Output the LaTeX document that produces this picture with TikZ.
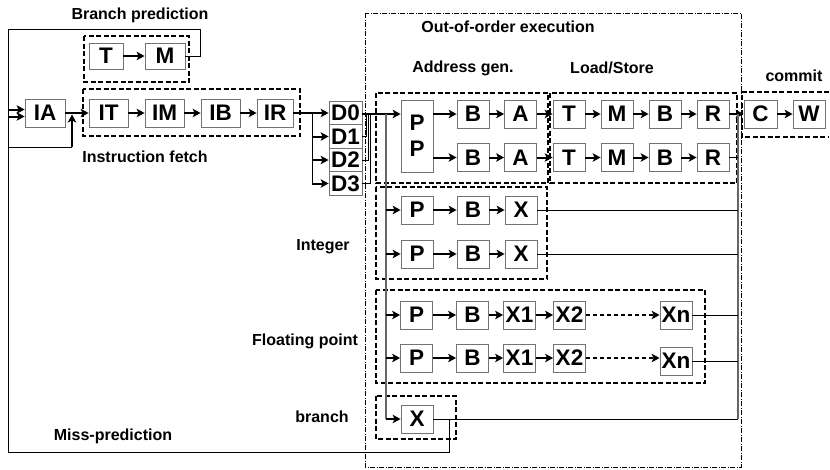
\documentclass[tikz,border=0pt]{standalone}
\usepackage{fontspec}
\setmainfont{Liberation Sans}
\usetikzlibrary{arrows.meta}
\begin{document}
\begin{tikzpicture}[x=1pt,y=-1pt,
  stage/.style={draw=black!55, line width=0.8pt, fill=white, inner sep=0pt,
    minimum height=28pt, minimum width=32pt, font=\fontsize{22.5}{22.5}\selectfont\bfseries},
  grp/.style={draw=black, line width=1.7pt, dash pattern=on 5pt off 2.5pt},
  ooo/.style={draw=black, line width=0.9pt, dash pattern=on 5pt off 1.5pt on 1pt off 1.5pt},
  tip/.style={-{Stealth[length=8pt,width=8.5pt,inset=2pt]}},
  flow/.style={line width=2pt, tip},
  wire/.style={line width=0.8pt},
  bus/.style={draw=black!60, line width=1.2pt},
  lbl/.style={font=\fontsize{16}{16}\selectfont\bfseries, inner sep=0pt}
]
\useasboundingbox (0,0) rectangle (830,469);

% ---- group frames ----
\draw[ooo] (365,13) rectangle (741,467);
\draw[grp] (84,36) rectangle (189,82);
\draw[grp] (83,89) rectangle (300,136);
\draw[grp] (376,93) rectangle (548,183);
\draw[grp] (550,93) rectangle (737,183);
\draw[grp] (829,92) -- (742,92) -- (742,137) -- (829,137);
\draw[grp] (376,187) rectangle (547,279);
\draw[grp] (376,290) rectangle (705,383);
\draw[grp] (376,396) rectangle (456,439);

% ---- labels ----
\node[lbl] (lbp)  at (140,15)  {Branch prediction};
\node[lbl] (lif)  at (145,157) {Instruction fetch};
\node[lbl] (looo) at (508,27)  {Out-of-order execution};
\node[lbl] (lag)  at (463,68)  {Address gen.};
\node[lbl] (lls)  at (612,68)  {Load/Store};
\node[lbl] (lcm)  at (794,76)  {commit};
\node[lbl] (lint) at (323,247) {Integer};
\node[lbl] (lfp)  at (305,341) {Floating point};
\node[lbl] (lbr)  at (322,417) {branch};
\node[lbl] (lmp)  at (113,436) {Miss-prediction};

% ---- branch prediction ----
\node[stage, minimum width=34pt, minimum height=26pt] (bpt) at (106,56) {T};
\node[stage, minimum width=40pt, minimum height=26pt] (bpm) at (165,56) {M};

% ---- instruction fetch ----
\node[stage, minimum width=40pt] (ia) at (45,113) {IA};
\node[stage, minimum width=39pt] (it) at (108.5,113) {IT};
\node[stage, minimum width=39pt] (im) at (164.5,113) {IM};
\node[stage, minimum width=39pt] (ib) at (220.5,113) {IB};
\node[stage, minimum width=36pt] (ir) at (275,113) {IR};

% ---- decode ----
\node[stage, minimum width=33pt, minimum height=23.5pt] (d0) at (345.5,113)   {D0};
\node[stage, minimum width=33pt, minimum height=23.5pt] (d1) at (345.5,136.5) {D1};
\node[stage, minimum width=33pt, minimum height=23.5pt] (d2) at (345.5,160)   {D2};
\node[stage, minimum width=33pt, minimum height=23.5pt] (d3) at (345.5,183.5) {D3};

% ---- address generation ----
\node[stage, minimum height=72pt, align=center, font=\fontsize{22.5}{26}\selectfont\bfseries] (pp) at (417,136) {P\\P};
\node[stage] (agb1) at (473,114)   {B};
\node[stage] (aga1) at (520.5,114) {A};
\node[stage] (agb2) at (473,157.5) {B};
\node[stage] (aga2) at (520.5,157.5) {A};

% ---- load/store ----
\node[stage] (lst1) at (569,114)   {T};
\node[stage] (lsm1) at (617,114)   {M};
\node[stage] (lsb1) at (665,114)   {B};
\node[stage] (lsr1) at (713,114)   {R};
\node[stage] (lst2) at (569,157.5) {T};
\node[stage] (lsm2) at (617,157.5) {M};
\node[stage] (lsb2) at (665,157.5) {B};
\node[stage] (lsr2) at (713,157.5) {R};

% ---- commit ----
\node[stage, minimum width=33pt] (cc) at (760.5,114) {C};
\node[stage] (cw) at (809,114) {W};

% ---- integer ----
\node[stage] (ip1) at (417,210) {P};
\node[stage] (ib1) at (473,210) {B};
\node[stage] (ix1) at (521,210) {X};
\node[stage] (ip2) at (417,254) {P};
\node[stage] (ib2) at (473,254) {B};
\node[stage] (ix2) at (521,254) {X};

% ---- floating point ----
\node[stage] (fp1) at (416.5,315) {P};
\node[stage] (fb1) at (472.5,315) {B};
\node[stage] (fa1) at (519.5,315) {X1};
\node[stage] (fc1) at (569.5,315) {X2};
\node[stage] (fn1) at (676,315)   {Xn};
\node[stage] (fp2) at (416.5,358) {P};
\node[stage] (fb2) at (472.5,358) {B};
\node[stage] (fa2) at (519.5,358) {X1};
\node[stage] (fc2) at (569.5,358) {X2};
\node[stage] (fn2) at (676,361)   {Xn};

% ---- branch unit ----
\node[stage] (bx) at (417,419) {X};

% ---- bus corners ----
\coordinate (lbtop) at (8,29);
\coordinate (lbbot) at (8,452);
\coordinate (bpturn) at (200,29);
\coordinate (iaa) at (8,109.5);
\coordinate (iab) at (8,116.5);
\coordinate (fbk) at (8,147);
\coordinate (fbj) at (72,147);
\coordinate (fbe) at (72,114.5);
\coordinate (dsp) at (312,113);
\coordinate (dspb) at (312,183.5);
\coordinate (xbus) at (386,114);
\coordinate (xbusb) at (386,419);
\coordinate (rbus) at (738,114);
\coordinate (rbusb) at (738,419);
\coordinate (mpturn) at (449,419);
\coordinate (mpbot) at (449,452);

% ---- feedback paths ----
\draw[wire] (bpm.east) -| (bpturn) -- (lbtop) -- (lbbot);
\draw[wire] (bx.east) -- (rbusb);
\draw[wire] (mpturn) |- (mpbot) -- (lbbot);
\draw[flow] (iaa) -- (iaa -| ia.west);
\draw[flow] (iab) -- (iab -| ia.west);
\draw[wire] (fbk) -- (fbj);
\draw[line width=1.2pt, tip] (fbj) -- (fbe);

% ---- fetch pipeline ----
\draw[flow] (bpt) -- (bpm);
\draw[flow] (ia) -- (it);
\draw[flow] (it) -- (im);
\draw[flow] (im) -- (ib);
\draw[flow] (ib) -- (ir);
\draw[flow] (ir) -- (d0);
\draw[wire] (dsp) -- (dspb);
\draw[flow] (dsp |- d1) -- (d1);
\draw[flow] (dsp |- d2) -- (d2);
\draw[flow] (dsp |- d3) -- (d3);

% ---- dispatch ----
\draw[wire] (d1.east) -- ++(4,0) |- (d0.east);
\draw[wire] (d2.east) -- ++(6,0) |- (d0.east);
\draw[wire] (d3.east) -- ++(8,0) |- (d0.east);
\draw[flow, line width=2.6pt] (d0.east |- xbus) -- (pp.west |- xbus);
\draw[bus] (xbus) -- (xbusb);
\draw[flow] (xbus |- ip1) -- (ip1);
\draw[flow] (xbus |- ip2) -- (ip2);
\draw[flow] (xbus |- fp1) -- (fp1);
\draw[flow] (xbus |- fp2) -- (fp2);
\draw[flow] (xbus |- bx) -- (bx);

% ---- memory pipelines ----
\draw[flow] (pp.east |- agb1) -- (agb1);
\draw[flow] (pp.east |- agb2) -- (agb2);
\draw[flow] (agb1) -- (aga1);
\draw[flow] (aga1) -- (lst1);
\draw[flow] (lst1) -- (lsm1);
\draw[flow] (lsm1) -- (lsb1);
\draw[flow] (lsb1) -- (lsr1);
\draw[flow] (agb2) -- (aga2);
\draw[flow] (aga2) -- (lst2);
\draw[flow] (lst2) -- (lsm2);
\draw[flow] (lsm2) -- (lsb2);
\draw[flow] (lsb2) -- (lsr2);
\draw[flow] (lsr1) -- (cc);
\draw[flow] (cc) -- (cw);

% ---- integer / float pipelines ----
\draw[flow] (ip1) -- (ib1);
\draw[flow] (ib1) -- (ix1);
\draw[flow] (ip2) -- (ib2);
\draw[flow] (ib2) -- (ix2);
\draw[flow] (fp1) -- (fb1);
\draw[flow] (fb1) -- (fa1);
\draw[flow] (fa1) -- (fc1);
\draw[flow, line width=1.4pt, dash pattern=on 4pt off 3pt] (fc1) -- (fn1);
\draw[flow] (fp2) -- (fb2);
\draw[flow] (fb2) -- (fa2);
\draw[flow] (fa2) -- (fc2);
\draw[flow, line width=1.4pt, dash pattern=on 4pt off 3pt] (fc2.east) -- (fc2.east -| fn2.west);

% ---- result bus to commit ----
\draw[bus] (rbus) -- (rbusb);
\draw[wire] (lsr2.east) -- (lsr2.east -| rbus);
\draw[wire] (ix1.east) -- (ix1.east -| rbus);
\draw[wire] (ix2.east) -- (ix2.east -| rbus);
\draw[wire] (fn1.east) -- (fn1.east -| rbus);
\draw[wire] (fn2.east) -- (fn2.east -| rbus);
\end{tikzpicture}
\end{document}
